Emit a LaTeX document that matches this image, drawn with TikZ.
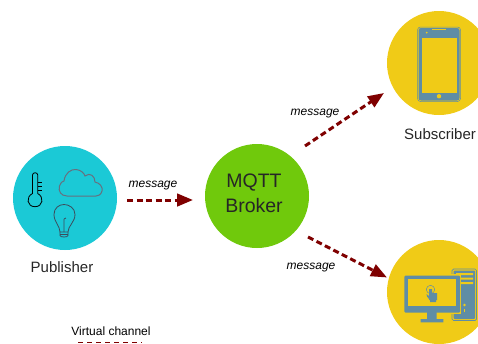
\documentclass[tikz,border=0pt]{standalone}
\usepackage{fontspec}
\setmainfont{Liberation Sans}
\usetikzlibrary{arrows.meta}
\definecolor{pubcyan}{HTML}{1BC9D6}
\definecolor{brokergreen}{HTML}{70C90C}
\definecolor{subyellow}{HTML}{F0CB17}
\definecolor{msgred}{HTML}{7F0000}
\definecolor{iconblue}{HTML}{5F8DA5}
\definecolor{cloudgray}{HTML}{66707F}
\definecolor{bulbgray}{HTML}{3C4C5C}
\tikzset{
	client/.style={circle,minimum size=104pt,inner sep=0pt},
	label/.style={font=\fontsize{15}{18}\selectfont,text=black!85},
	brokertext/.style={font=\fontsize{19.5}{24}\selectfont,text=black!85},
	msglabel/.style={font=\itshape\fontsize{12}{14}\selectfont},
	msgarrow/.style={draw=msgred,line width=3pt,dash pattern=on 6pt off 3.5pt,-{Triangle[length=16pt,width=12.5pt]}},
}
\begin{document}
\begin{tikzpicture}[x=1pt,y=-1pt]
	\useasboundingbox (0,0) rectangle (478,343);
	\clip (0,0) rectangle (478,343);

	% Circles
	\node[client,fill=pubcyan] (publisher) at (65,198) {};
	\node[client,fill=brokergreen] (broker) at (257,196) {};
	\node[client,fill=subyellow] (subscriber) at (439,63) {};
	\node[client,fill=subyellow] (desktop) at (439,292) {};

	% Labels
	\node[brokertext] (brokerone) at (254,182.5) {MQTT};
	\node[brokertext] (brokertwo) at (254,205.5) {Broker};
	\node[label] (publabel) at (62,267) {Publisher};
	\node[label] (sublabel) at (440,134) {Subscriber};

	% Message arrows
	\coordinate (pubout) at (127,200);
	\coordinate (brokerin) at (193,200);
	\coordinate (brokerup) at (305,146);
	\coordinate (subin) at (384,93);
	\coordinate (brokerdown) at (308,237);
	\coordinate (deskin) at (387,277.5);
	\draw[msgarrow] (pubout) -- (brokerin);
	\draw[msgarrow] (brokerup) -- (subin);
	\draw[msgarrow] (brokerdown) -- (deskin);
	\node[msglabel] (msgpub) at (153,186) {message};
	\node[msglabel] (msgsub) at (315,114) {message};
	\node[msglabel] (msgdesk) at (311,268) {message};

	% Thermometer
	\draw[black,line width=0.8pt] (32.5,193.5) -- (32.5,175) .. controls (32.5,172) and (37.7,172) .. (37.7,175) -- (37.7,193.5)
		.. controls (44.5,197) and (43,206.7) .. (35,206.7) .. controls (27,206.7) and (25.5,197) .. (32.5,193.5) -- cycle;
	\draw[black,line width=0.8pt] (37.7,182) -- (41.5,182) (37.7,186) -- (41.5,186) (37.7,190) -- (41.5,190);

	% Cloud
	\draw[cloudgray,line width=1pt] (67,196) .. controls (61,196) and (58,191) .. (59.5,186)
		.. controls (61,182) and (63,181) .. (64,181)
		.. controls (65,173) and (71,169) .. (76,169.5)
		.. controls (81,170) and (84,173) .. (85,176)
		.. controls (90,172) and (95,176) .. (95,182)
		.. controls (100,183) and (103,187) .. (102,191)
		.. controls (101,195) and (98,196) .. (96,196) -- cycle;

	% Bulb
	\draw[bulbgray,line width=0.8pt] (60,232) .. controls (60,226) and (54,222) .. (54,214.5)
		.. controls (54,208) and (59,204.5) .. (64,204.5)
		.. controls (69,204.5) and (75,208) .. (75,214.5)
		.. controls (75,222) and (68,226) .. (68,232) -- cycle;
	\draw[bulbgray,line width=0.8pt] (60,232) -- (60,235.5) .. controls (60,237.5) and (68,237.5) .. (68,235.5) -- (68,232)
		(60,234.5) -- (68,234.5) (64,232) -- (64,219) (64,219) -- (66,218);

	% Phone
	\draw[iconblue,line width=0.5pt,rounded corners=3pt] (417.5,27) rectangle (460.5,101.5);
	\fill[iconblue,rounded corners=2.5pt] (418.5,28) rectangle (459.5,100.5);
	\fill[subyellow] (421.5,37.5) rectangle (456.5,92.5);
	\fill[subyellow] (439,96.2) circle (2.2pt);
	\fill[subyellow] (426.7,32.7) circle (1pt);
	\draw[subyellow,line width=0.8pt] (432,29) -- (446,29);

	% Desktop tower
	\draw[iconblue,line width=0.7pt,rounded corners=1.5pt] (452,269) rectangle (476.5,320.5);
	\fill[iconblue,rounded corners=1pt] (453.5,270.5) rectangle (475,319);
	\fill[subyellow] (456,273) rectangle (473,275) (456,277.5) rectangle (473,279.5) (456,282) rectangle (473,284);
	\fill[subyellow] (464.5,305) circle (1.3pt);
	\fill[subyellow] (464,309) rectangle (465,312);

	% Monitor
	\fill[subyellow] (402.5,274) rectangle (461,313.5);
	\fill[iconblue,rounded corners=1pt] (404.3,275.7) rectangle (460,312.5);
	\fill[subyellow] (408.3,279.3) rectangle (456,305.7);
	\fill[iconblue] (427,312) rectangle (436.5,319) (420.7,319) rectangle (443.3,322.3);

	% Hand
	\draw[iconblue,line width=0.5pt] (430.5,289.5) circle (4.2pt);
	\fill[iconblue] (429,289) rectangle (432,298) (426.5,294) -- (429,296) -- (429,299) -- (427,296.5) -- cycle
		(429,293) rectangle (437,300) (430,300) rectangle (436,302);

	% Legend
	\node[font=\fontsize{12}{14}\selectfont] (legend) at (111,331) {Virtual channel};
	\coordinate (legstart) at (78,342.5);
	\coordinate (legend2) at (142,342.5);
	\draw[msgred,line width=1.5pt,dash pattern=on 5pt off 4pt] (legstart) -- (legend2);
\end{tikzpicture}
\end{document}
